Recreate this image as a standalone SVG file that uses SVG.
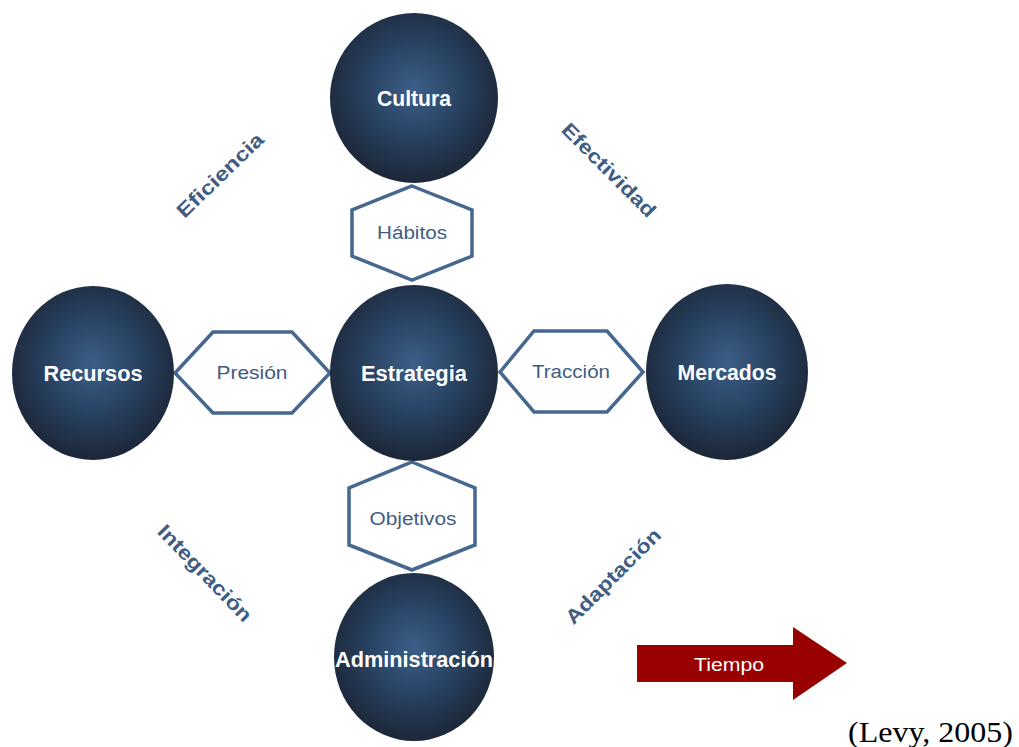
<svg xmlns="http://www.w3.org/2000/svg" width="1019" height="747" viewBox="0 0 1019 747">
<defs>
<radialGradient id="ball" cx="50%" cy="45%" r="55%">
<stop offset="0%" stop-color="#3c5f88"/>
<stop offset="55%" stop-color="#27405f"/>
<stop offset="100%" stop-color="#1c2738"/>
</radialGradient>
<style>
.ball{fill:url(#ball)}
.bt{font-family:"Liberation Sans",Arial,sans-serif;font-weight:bold;font-size:22px;fill:#ffffff;text-anchor:middle}
.hex{fill:#ffffff;stroke:#46678f;stroke-width:3.5;stroke-linejoin:miter}
.ht{font-family:"Liberation Sans",Arial,sans-serif;font-size:18px;fill:#3f5d82;text-anchor:middle}
.dt{font-family:"Liberation Sans",Arial,sans-serif;font-weight:bold;font-size:20px;fill:#3f5d82;text-anchor:middle}
</style>
</defs>
<rect width="1019" height="747" fill="#ffffff"/>
<g id="connectors">
<g id="hex-habitos"><polygon class="hex" points="412,186 472,210 472,256 412,280 352,256 352,210"/><text class="ht" x="412" y="239" textLength="70" lengthAdjust="spacingAndGlyphs">Hábitos</text></g>
<g id="hex-presion"><polygon class="hex" points="175,373 213,332 292,332 330,373 292,413 213,413"/><text class="ht" x="252" y="379" textLength="71" lengthAdjust="spacingAndGlyphs">Presión</text></g>
<g id="hex-traccion"><polygon class="hex" points="500,372 534,331 607,331 643,372 607,412 534,412"/><text class="ht" x="571" y="378" textLength="78" lengthAdjust="spacingAndGlyphs">Tracción</text></g>
<g id="hex-objetivos"><polygon class="hex" points="412,462 475,488 475,545 412,570 349,545 349,488"/><text class="ht" x="413" y="525" textLength="87" lengthAdjust="spacingAndGlyphs">Objetivos</text></g>
</g>
<g id="cultura"><ellipse class="ball" cx="414" cy="98" rx="84" ry="85"/><text class="bt" x="414" y="106" textLength="74" lengthAdjust="spacingAndGlyphs">Cultura</text></g>
<g id="estrategia"><ellipse class="ball" cx="414" cy="373" rx="84" ry="88"/><text class="bt" x="414" y="381" textLength="106" lengthAdjust="spacingAndGlyphs">Estrategia</text></g>
<g id="recursos"><ellipse class="ball" cx="93" cy="373" rx="81" ry="87"/><text class="bt" x="93" y="381" textLength="99" lengthAdjust="spacingAndGlyphs">Recursos</text></g>
<g id="mercados"><ellipse class="ball" cx="727" cy="372" rx="81" ry="88"/><text class="bt" x="727" y="380" textLength="99" lengthAdjust="spacingAndGlyphs">Mercados</text></g>
<g id="administracion"><ellipse class="ball" cx="414" cy="657" rx="80" ry="84"/><text class="bt" x="414" y="667" textLength="158" lengthAdjust="spacingAndGlyphs">Administración</text></g>
<g id="labels">
<text class="dt" transform="translate(220,175) rotate(-44)" y="7" textLength="112" lengthAdjust="spacingAndGlyphs">Eficiencia</text>
<text class="dt" transform="translate(609,170) rotate(45)" y="7" textLength="124" lengthAdjust="spacingAndGlyphs">Efectividad</text>
<text class="dt" transform="translate(205,573) rotate(46)" y="7" textLength="126" lengthAdjust="spacingAndGlyphs">Integración</text>
<text class="dt" transform="translate(613,576) rotate(-45)" y="7" textLength="126" lengthAdjust="spacingAndGlyphs">Adaptación</text>
</g>
<g id="tiempo">
<polygon points="637,645 793,645 793,627 847,663 793,700 793,682 637,682" fill="#990000"/>
<text x="729" y="671" font-family="'Liberation Sans',Arial,sans-serif" font-size="18" fill="#ffffff" text-anchor="middle" textLength="70" lengthAdjust="spacingAndGlyphs">Tiempo</text>
</g>
<text x="848" y="742" font-family="'Liberation Serif','Times New Roman',serif" font-size="30" fill="#000000" textLength="165" lengthAdjust="spacingAndGlyphs">(Levy, 2005)</text>
</svg>
